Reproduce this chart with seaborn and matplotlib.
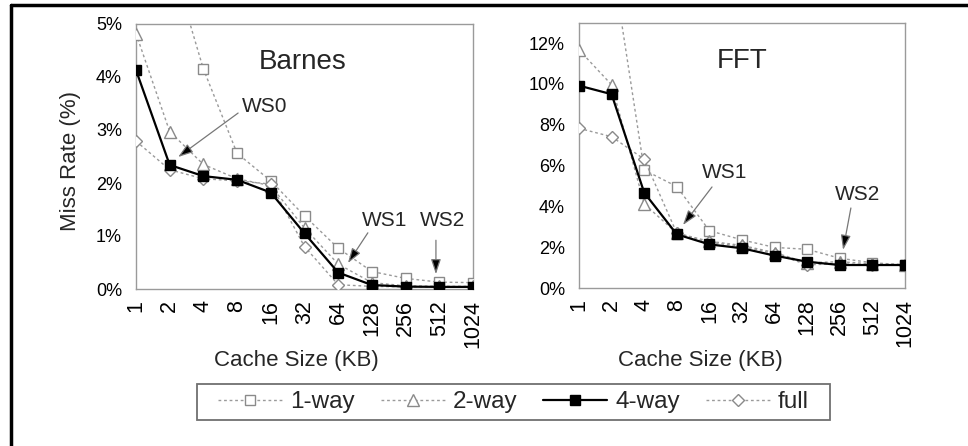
import matplotlib
matplotlib.use("Agg")
import matplotlib.pyplot as plt
from matplotlib.lines import Line2D
from matplotlib.patches import Rectangle
import seaborn as sns
import numpy as np

sns.set_style("white")
plt.rcParams["font.family"] = ["Liberation Sans", "DejaVu Sans"]

# Cache sizes (KB) used as categorical x positions
sizes = ["1", "2", "4", "8", "16", "32", "64", "128", "256", "512", "1024"]
series_names = ["1-way", "2-way", "4-way", "full"]

# Miss rates (%) for Barnes
barnes_1way = [8.5, 6.3, 4.15, 2.56, 2.04, 1.38, 0.77, 0.33, 0.20, 0.13, 0.12]
barnes_2way = [4.82, 2.97, 2.35, 2.08, 1.95, 1.15, 0.47, 0.12, 0.06, 0.05, 0.05]
barnes_4way = [4.13, 2.34, 2.13, 2.06, 1.82, 1.05, 0.31, 0.075, 0.045, 0.04, 0.04]
barnes_full = [2.79, 2.25, 2.08, 2.04, 1.98, 0.80, 0.08, 0.05, 0.04, 0.04, 0.04]

# Miss rates (%) for FFT
fft_1way = [20.0, 16.2, 5.79, 4.98, 2.82, 2.37, 2.0, 1.91, 1.47, 1.25, 1.15]
fft_2way = [11.67, 9.96, 4.13, 2.7, 2.3, 2.1, 1.75, 1.25, 1.3, 1.2, 1.15]
fft_4way = [9.92, 9.5, 4.68, 2.64, 2.15, 1.96, 1.6, 1.3, 1.14, 1.14, 1.14]
fft_full = [7.83, 7.42, 6.32, 2.7, 2.25, 2.05, 1.7, 1.15, 1.2, 1.15, 1.15]

barnes_yticks = [0, 1, 2, 3, 4, 5]
fft_yticks = [0, 2, 4, 6, 8, 10, 12]

GRAY = "#9a9a9a"
SPINE = "#9a9a9a"
W, H = 968, 446

styles = {
    "1-way": dict(color=GRAY, linestyle=(0, (2, 2)), linewidth=1.0, marker="s",
                  markersize=7, markerfacecolor="white", markeredgecolor="#8a8a8a",
                  markeredgewidth=1.0, zorder=3),
    "2-way": dict(color=GRAY, linestyle=(0, (2, 2)), linewidth=1.0, marker="^",
                  markersize=8, markerfacecolor="white", markeredgecolor="#8a8a8a",
                  markeredgewidth=1.0, zorder=3),
    "4-way": dict(color="black", linestyle="-", linewidth=1.6, marker="s",
                  markersize=7, markerfacecolor="black", markeredgecolor="black",
                  markeredgewidth=1.0, zorder=5),
    "full": dict(color=GRAY, linestyle=(0, (2, 2)), linewidth=1.0, marker="D",
                 markersize=6, markerfacecolor="white", markeredgecolor="#8a8a8a",
                 markeredgewidth=1.0, zorder=4),
}

fig = plt.figure(figsize=(W / 100, H / 100), dpi=100)
fig.patch.set_facecolor("white")

ax1 = fig.add_axes([136 / W, 1 - 289 / H, 337 / W, 265 / H])
ax2 = fig.add_axes([579 / W, 1 - 288.3 / H, 326 / W, 265.6 / H])

x = np.arange(len(sizes))


def draw_panel(ax, data, yticks, ymax):
    for name in ["1-way", "2-way", "full", "4-way"]:
        st = styles[name]
        sns.lineplot(x=x, y=data[name], ax=ax, color=st["color"],
                     linestyle=st["linestyle"], linewidth=st["linewidth"],
                     marker=st["marker"], markersize=st["markersize"],
                     markerfacecolor=st["markerfacecolor"],
                     markeredgecolor=st["markeredgecolor"],
                     markeredgewidth=st["markeredgewidth"],
                     zorder=st["zorder"], sort=False, estimator=None)
    ax.set_xlim(0, len(sizes) - 1)
    ax.set_ylim(0, ymax)
    ax.set_xticks(x)
    ax.set_xticklabels(sizes, rotation=90, fontsize=15.5)
    ax.set_yticks(yticks)
    ax.set_yticklabels([f"{t}%" for t in yticks], fontsize=13)
    for s in ax.spines.values():
        s.set_visible(True)
        s.set_color(SPINE)
        s.set_linewidth(1.0)
    ax.tick_params(axis="both", direction="inout", length=6, width=1.0,
                   color=SPINE, labelcolor="black")
    ax.tick_params(axis="x", pad=5)
    ax.tick_params(axis="y", pad=7)
    ax.set_xlabel("")
    ax.set_ylabel("")


draw_panel(ax1, {"1-way": barnes_1way, "2-way": barnes_2way,
                 "4-way": barnes_4way, "full": barnes_full}, barnes_yticks, 5)
draw_panel(ax2, {"1-way": fft_1way, "2-way": fft_2way,
                 "4-way": fft_4way, "full": fft_full}, fft_yticks, 13)

# Titles inside the plot areas
ax1.text(4.94, 4.29, "Barnes", fontsize=20, ha="center", va="center")
ax2.text(4.99, 11.12, "FFT", fontsize=20, ha="center", va="center")

# Axis labels
ax1.set_ylabel("Miss Rate (%)", fontsize=16)
ax1.yaxis.set_label_coords(-0.163, 0.483)
ax1.set_xlabel("Cache Size (KB)", fontsize=16)
ax1.xaxis.set_label_coords(0.475, -0.268)
ax1.xaxis.label.set_va("center")
ax2.set_xlabel("Cache Size (KB)", fontsize=16)
ax2.xaxis.set_label_coords(0.373, -0.270)
ax2.xaxis.label.set_va("center")

# Working-set annotations
arrow_kw = dict(arrowstyle="-|>,head_length=0.9,head_width=0.3",
                color="#777777", lw=0.9, shrinkA=0, shrinkB=0)


def ws(ax, label, text_xy, tail, head):
    ax.text(text_xy[0], text_xy[1], label, fontsize=15, ha="center",
            va="center", zorder=6)
    ann = ax.annotate("", xy=head, xytext=tail, arrowprops=arrow_kw, zorder=6)
    ann.arrow_patch.set_facecolor("black")


ws(ax1, "WS0", (3.83, 3.45), (3.03, 3.32), (1.25, 2.49))
ws(ax1, "WS1", (7.39, 1.30), (6.88, 1.06), (6.29, 0.49))
ws(ax1, "WS2", (9.11, 1.30), (8.90, 0.92), (8.90, 0.28))
ws(ax2, "WS1", (4.48, 5.65), (4.08, 4.96), (3.19, 3.10))
ws(ax2, "WS2", (8.53, 4.57), (8.34, 3.93), (8.10, 1.88))

# Shared legend with its own box
handles = [Line2D([0], [0], color=styles[n]["color"],
                  linestyle=styles[n]["linestyle"],
                  linewidth=styles[n]["linewidth"], marker=styles[n]["marker"],
                  markersize=styles[n]["markersize"],
                  markerfacecolor=styles[n]["markerfacecolor"],
                  markeredgecolor=styles[n]["markeredgecolor"])
           for n in series_names]
leg_left, leg_right, leg_top, leg_bottom = 197, 830, 384, 420
fig.legend(handles, series_names, loc="center",
           bbox_to_anchor=((leg_left + leg_right) / 2 / W,
                           1 - (leg_top + leg_bottom) / 2 / H),
           ncol=4, fontsize=17.5, frameon=False, handlelength=2.63,
           handletextpad=0.33, columnspacing=1.07, borderpad=0.1)
fig.add_artist(Rectangle((leg_left / W, 1 - leg_bottom / H),
                         (leg_right - leg_left) / W,
                         (leg_bottom - leg_top) / H,
                         transform=fig.transFigure, fill=False,
                         edgecolor="#707070", linewidth=1.3))

# Outer frame (left and top edges)
fig.add_artist(Line2D([11 / W, 11 / W], [0, 1 - 5 / H],
                      transform=fig.transFigure, color="black", linewidth=2.5))
fig.add_artist(Line2D([11 / W, 1], [1 - 5 / H, 1 - 5 / H],
                      transform=fig.transFigure, color="black", linewidth=2.5))

fig.savefig("out.png", dpi=100, facecolor="white")
